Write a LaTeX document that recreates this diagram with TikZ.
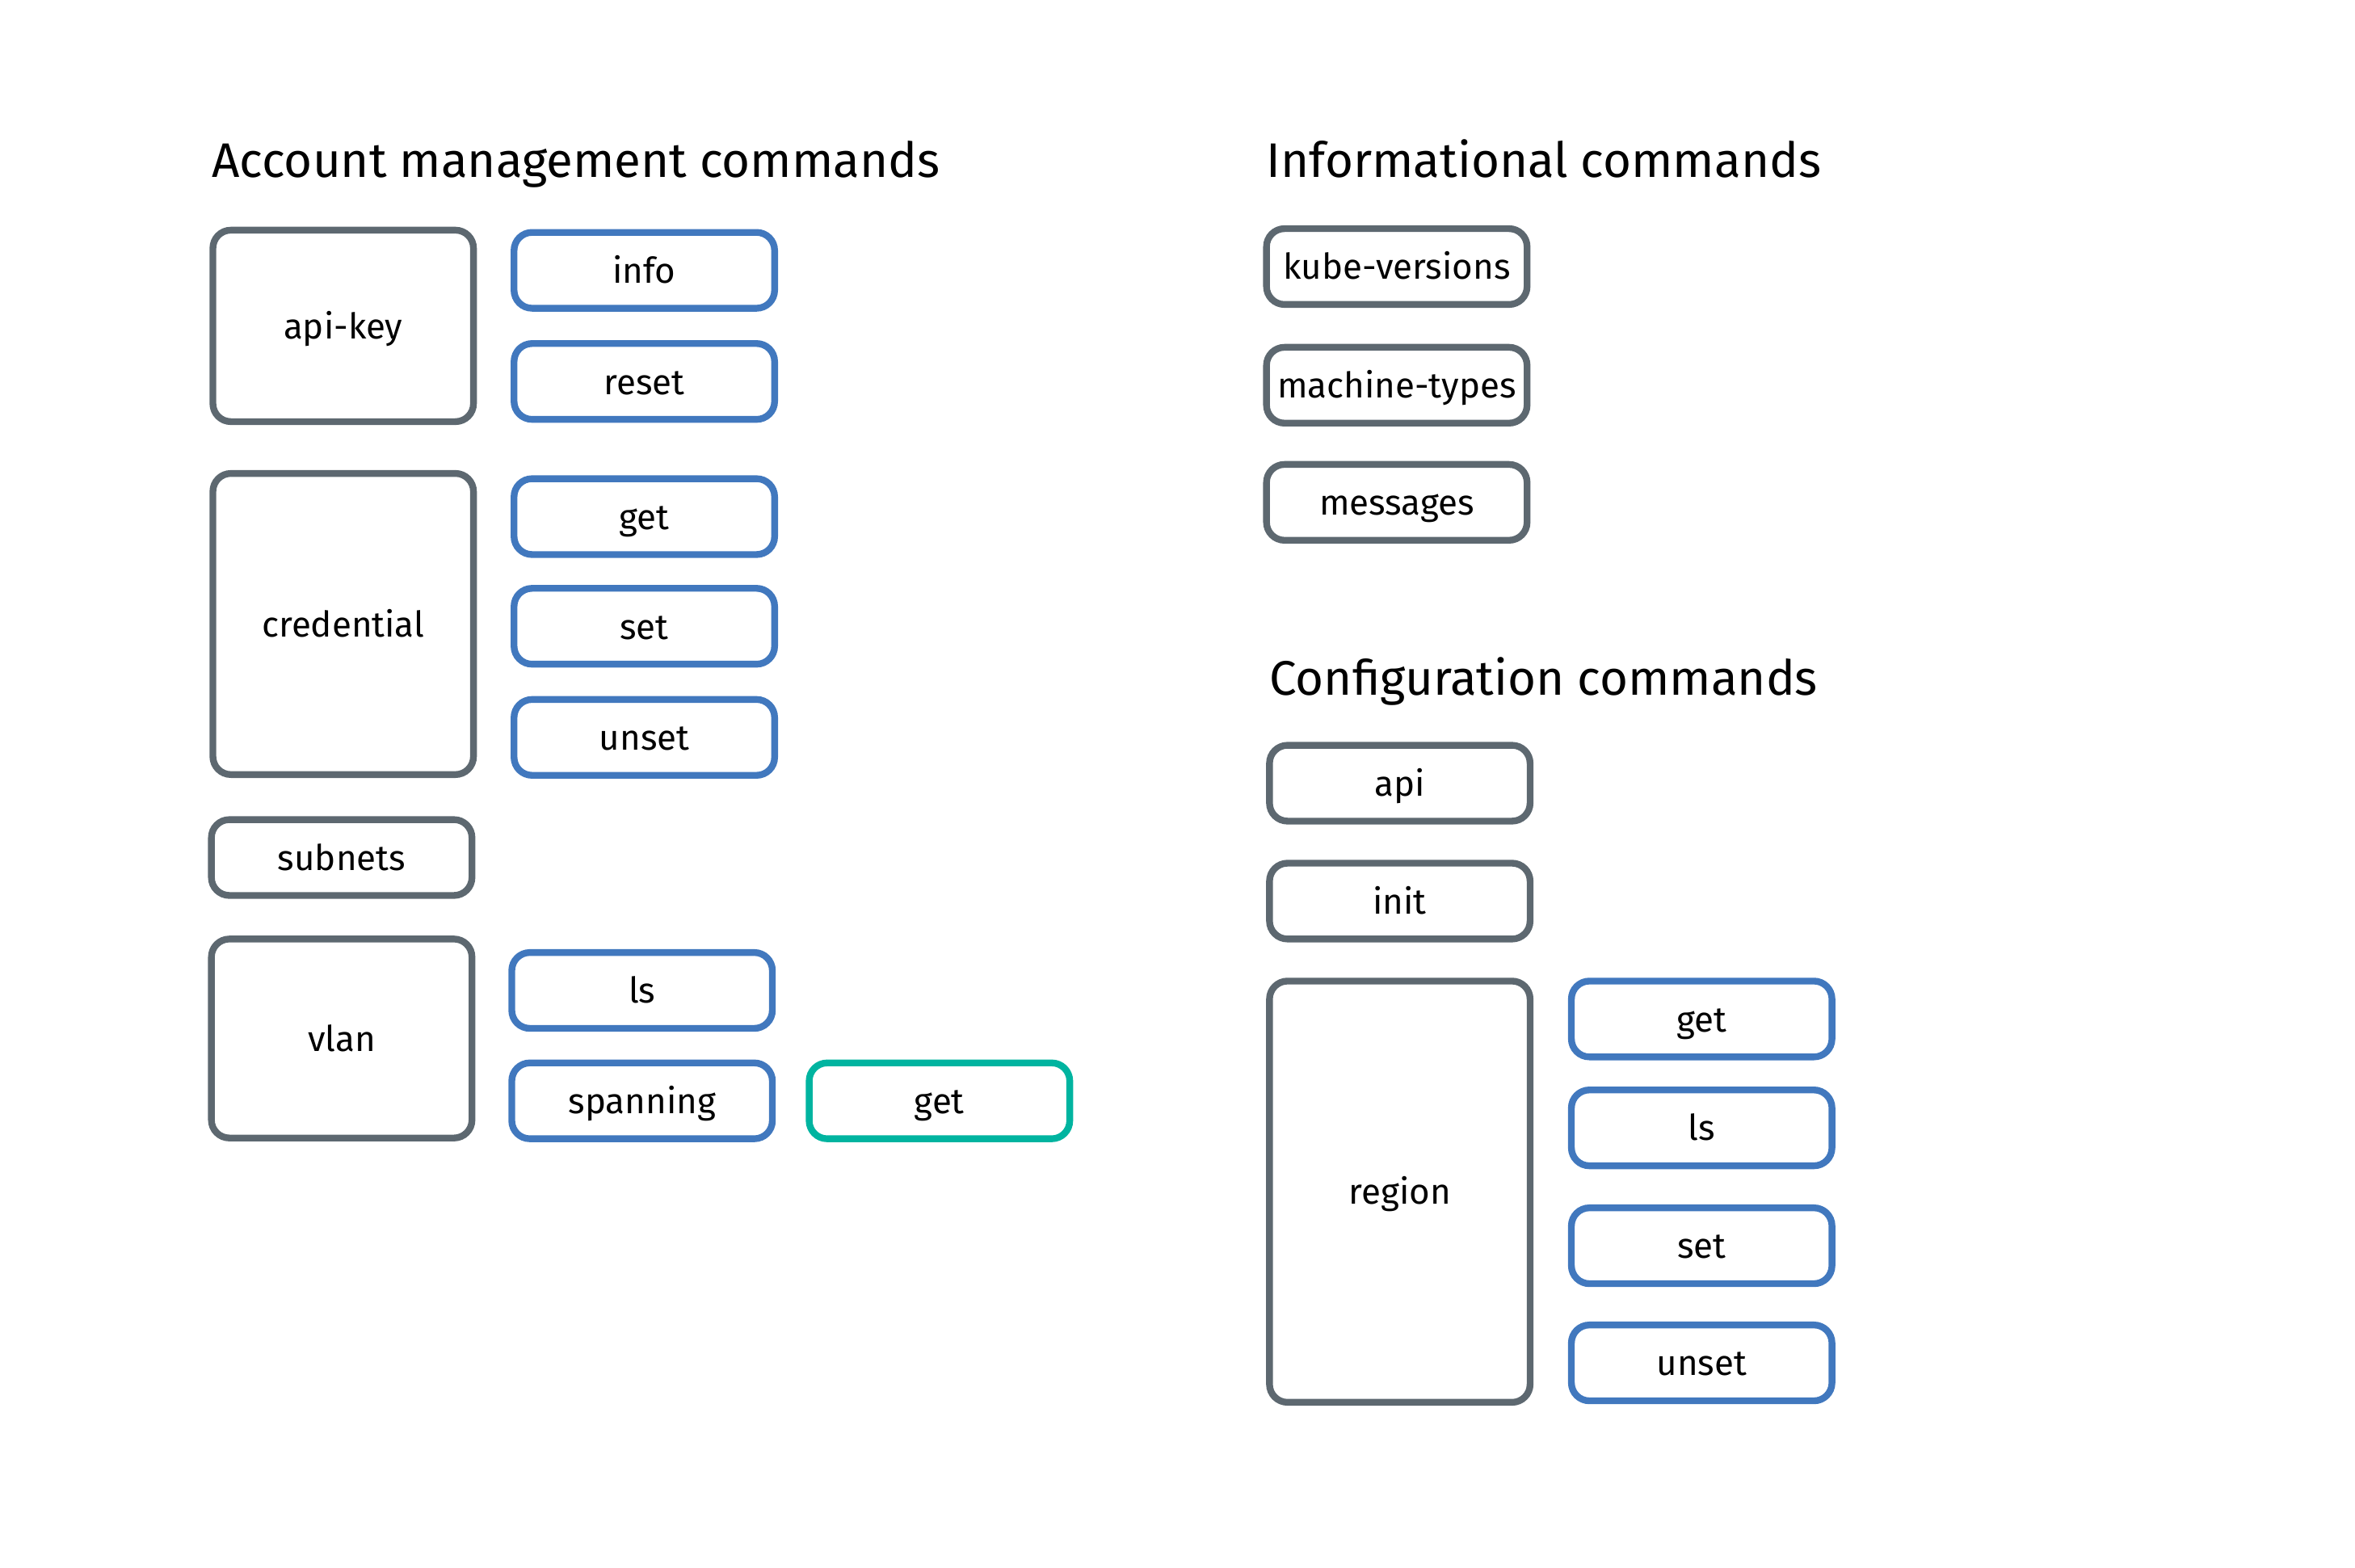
\documentclass[tikz,border=0pt]{standalone}
\usepackage{fontspec}
\setmainfont{Fira Sans}
\definecolor{cmdgray}{HTML}{5D6870}
\definecolor{cmdblue}{HTML}{4178BE}
\definecolor{cmdteal}{HTML}{00B4A0}
\tikzset{
    box/.style={line width=4.5pt, rounded corners=12pt, minimum width=173.5pt, minimum height=50.5pt, inner sep=0pt, text height=21pt, text depth=4pt, text=black, font=\fontsize{23.6}{28}\selectfont},
    cmdbox/.style={box, draw=cmdgray},
    subbox/.style={box, draw=cmdblue},
    leafbox/.style={box, draw=cmdteal},
    heading/.style={anchor=base west, inner sep=0pt, font=\fontsize{32.3}{38}\selectfont}
}

\begin{document}
\begin{tikzpicture}[x=1pt, y=-1pt]
            \useasboundingbox (0,0) rectangle (1568,1044); %画布大小
            %三个标题
            \node[heading] (acct) at (141,118) {Account management commands};
            \node[heading] (info) at (843,118) {Informational commands};
            \node[heading] (conf) at (845,463) {Configuration commands};
            %api-key 及其子命令
            \node[cmdbox, minimum height=127.5pt] (apikey) at (228.5,217) {api-key};
            \node[subbox] (apikeyinfo) at (429,180) {info};
            \node[subbox] (apikeyreset) at (429,254) {reset};
            %credential 及其子命令
            \node[cmdbox, minimum height=200.5pt] (cred) at (228.5,415.5) {credential};
            \node[subbox] (credget) at (429,344) {get};
            \node[subbox] (credset) at (429,417) {set};
            \node[subbox] (credunset) at (429,491) {unset};
            %subnets
            \node[cmdbox] (subnets) at (227.5,571) {subnets};
            %vlan 及其子命令
            \node[cmdbox, minimum height=132.5pt] (vlan) at (227.5,691.5) {vlan};
            \node[subbox] (vlanls) at (427.5,659.5) {ls};
            \node[subbox] (vlanspan) at (427.5,733) {spanning};
            \node[leafbox] (spanget) at (625.5,733) {get};
            %信息类命令
            \node[cmdbox] (kube) at (930,177.5) {kube-versions};
            \node[cmdbox] (machine) at (930,256.5) {machine-types};
            \node[cmdbox] (msgs) at (930,334.5) {messages};
            %配置类命令
            \node[cmdbox] (api) at (932,521.5) {api};
            \node[cmdbox] (init) at (932,600) {init};
            \node[cmdbox, minimum height=280.5pt] (region) at (932,793.5) {region};
            \node[subbox] (regionget) at (1133,678.5) {get};
            \node[subbox] (regionls) at (1133,751) {ls};
            \node[subbox] (regionset) at (1133,829.5) {set};
            \node[subbox] (regionunset) at (1133,907.5) {unset};
          \end{tikzpicture}
\end{document}
